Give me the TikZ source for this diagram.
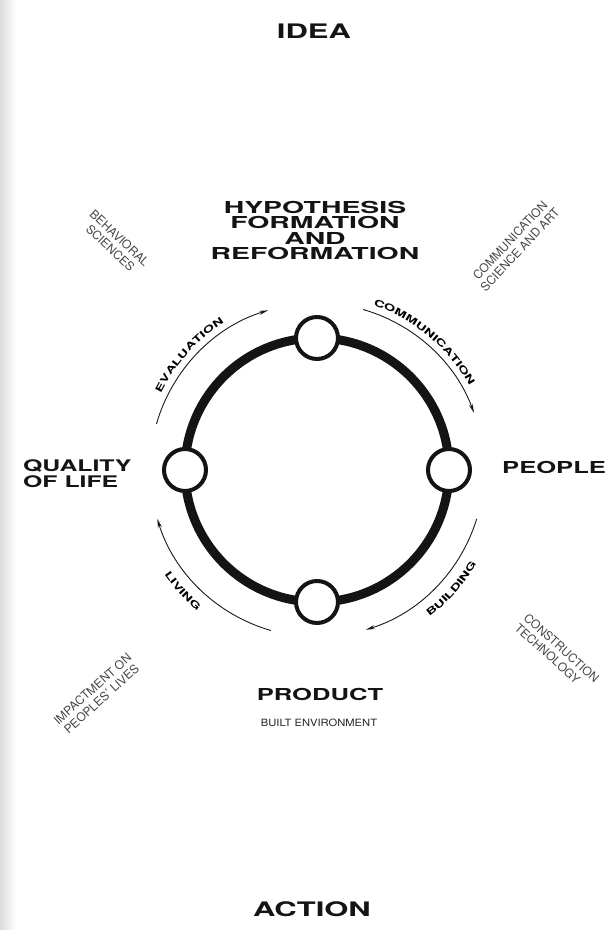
\documentclass[tikz,border=0pt]{standalone}
\usepackage{fontspec}
\setmainfont{TeX Gyre Heros}
\newfontfamily\extbf[FakeStretch=1.55]{texgyreheros-bold.otf}
\newfontfamily\extbfw[FakeStretch=1.72]{texgyreheros-bold.otf}
\newfontfamily\regext[FakeStretch=1.12]{texgyreheros-regular.otf}
\newcommand\arcfont{\extbf\fontsize{9.5}{9.5}\selectfont}
\usetikzlibrary{arrows.meta,decorations.text,calc}
\begin{document}
\begin{tikzpicture}[x=1pt,y=1pt,
  bigring/.style={line width=9pt, draw=black!92},
  hub/.style={circle, draw=black!92, line width=4pt, fill=white, minimum size=42pt, inner sep=0pt},
  flow/.style={line width=0.9pt, draw=black!90, -{Stealth[length=9pt,width=4pt]}},
  mainlabel/.style={font=\extbf\fontsize{16.5}{15.7}\selectfont, text=black!92, inner sep=0pt},
  toplabel/.style={font=\extbfw\fontsize{16.5}{15.5}\selectfont, text=black!92, inner sep=0pt},
  biglabel/.style={font=\extbf\fontsize{20}{20}\selectfont, text=black!92, inner sep=0pt},
  diag/.style={font=\fontsize{12}{13.5}\selectfont, text=black!72, inner sep=0pt, align=center},
  arclabel/.style={decorate, decoration={text along path, text align=center, text={|\arcfont|#1}}}
]
\useasboundingbox (0,0) rectangle (615,930);
\fill[white] (0,0) rectangle (615,930);
\shade[left color=black!14, right color=white] (0,0) rectangle (16,930);

\coordinate (c) at (317,460);
\draw[bigring] (c) circle[radius=132];
\node[hub] (hyp) at ($(c)+(90:132)$) {};
\node[hub] (peo) at ($(c)+(0:132)$) {};
\node[hub] (pro) at ($(c)+(270:132)$) {};
\node[hub] (qua) at ($(c)+(180:132)$) {};

\draw[flow] ([shift={(164:167)}]c) arc[start angle=164, end angle=107, radius=167];
\draw[flow] ([shift={(74:167)}]c) arc[start angle=74, end angle=20, radius=167];
\draw[flow] ([shift={(-17:167)}]c) arc[start angle=-17, end angle=-73, radius=167];
\draw[flow] ([shift={(-106:167)}]c) arc[start angle=-106, end angle=-163, radius=167];

\path[arclabel=EVALUATION] ([shift={(160:174)}]c) arc[start angle=160, end angle=116, radius=174];
\path[arclabel=COMMUNICATION] ([shift={(75:174)}]c) arc[start angle=75, end angle=25, radius=174];
\path[arclabel=LIVING] ([shift={(-158:185)}]c) arc[start angle=-158, end angle=-118, radius=185];
\path[arclabel=BUILDING] ([shift={(-62:185)}]c) arc[start angle=-62, end angle=-21, radius=185];

\node[biglabel, anchor=base] (idea) at (314,891) {IDEA};
\node[toplabel, align=center, anchor=north] (hypo) at (315,729) {HYPOTHESIS\\FORMATION\\AND\\REFORMATION};
\node[mainlabel, font=\extbf\fontsize{16}{16}\selectfont, align=left, anchor=north west] (qol) at (23,471) {QUALITY\\OF LIFE};
\node[mainlabel, anchor=base west] (people) at (502,456) {PEOPLE};
\node[mainlabel, anchor=base] (product) at (320,229) {PRODUCT};
\node[anchor=base, font=\regext\fontsize{10}{12}\selectfont, text=black!85, inner sep=0pt] (built) at (319,203) {BUILT ENVIRONMENT};
\node[biglabel, anchor=base] (action) at (312,13) {ACTION};

\node[diag, rotate=-43] (behav) at (115,687) {BEHAVIORAL\\SCIENCES};
\node[diag, rotate=47] (commsci) at (515,685) {COMMUNICATION\\SCIENCE AND ART};
\node[diag, rotate=42] (impact) at (97,236) {IMPACTMENT ON\\PEOPLES' LIVES};
\node[diag, rotate=-42, align=left] (constr) at (557,277) {CONSTRUCTION\\TECHNOLOGY};
\end{tikzpicture}
\end{document}
